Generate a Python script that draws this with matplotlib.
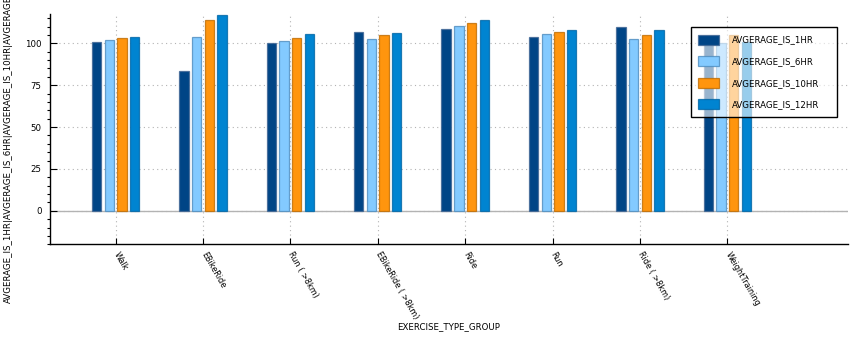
import matplotlib.pyplot as plt
from matplotlib.ticker import MultipleLocator
import numpy as np

groups = ["Walk", "EBikeRide", "Run ( >8km)", "EBikeRide ( >8km)",
          "Ride", "Run", "Ride ( >8km)", "WeightTraining"]
avg_1hr = [100.8, 83.3, 100.2, 106.9, 108.3, 104.0, 109.7, 101.0]
avg_6hr = [101.8, 103.7, 101.6, 102.4, 110.1, 105.5, 102.7, 100.0]
avg_10hr = [103.0, 113.7, 103.4, 104.8, 112.3, 106.5, 105.1, 105.0]
avg_12hr = [103.6, 116.6, 105.7, 106.0, 114.0, 107.7, 107.7, 101.0]
series_names = ["AVGERAGE_IS_1HR", "AVGERAGE_IS_6HR",
                "AVGERAGE_IS_10HR", "AVGERAGE_IS_12HR"]


def main():
    """
    Grouped bar chart of the averages per exercise type.
    """
    plt.rcParams['font.family'] = ['DejaVu Sans']
    fig = plt.figure(figsize=(8.62, 3.41), dpi=100)
    ax = fig.add_axes([0.058, 0.2836, 0.9258, 0.6744])

    series = [avg_1hr, avg_6hr, avg_10hr, avg_12hr]
    fills = ["#004586", "#83caff", "#ff950e", "#0084d1"]
    edges = [(0.25, 0.40, 0.58, 0.8), (0.30, 0.55, 0.75, 0.8),
             (0.75, 0.42, 0.0, 0.8), (0.0, 0.40, 0.65, 0.8)]
    x = np.arange(len(groups))
    step = 0.145
    width = 0.107
    for i, values in enumerate(series):
        ax.bar(x + (i - 1.5) * step, values, width, color=fills[i],
               edgecolor=edges[i], linewidth=0.9, label=series_names[i],
               zorder=3)

    ax.set_xlim(-0.75, 8.38)
    ax.set_ylim(-20, 117.3)
    ax.yaxis.set_major_locator(MultipleLocator(25))
    ax.yaxis.set_minor_locator(MultipleLocator(5))
    ax.set_yticks([0, 25, 50, 75, 100])
    ax.set_xticks(x)
    ax.set_xticklabels(groups, rotation=-60, ha='left', va='center',
                       rotation_mode='anchor')

    ax.tick_params(axis='both', direction='in', labelsize=6.2, width=0.8)
    ax.tick_params(axis='y', which='major', length=5, pad=6)
    ax.tick_params(axis='y', which='minor', length=2.5, width=0.8)
    ax.tick_params(axis='x', length=4, pad=6, labelsize=5.9)

    for s in ["top", "right"]:
        ax.spines[s].set_visible(False)
    for s in ["left", "bottom"]:
        ax.spines[s].set_linewidth(1.0)

    ax.grid(axis='y', which='major', color="#b3b3b3", linestyle=(0, (1, 3)),
            linewidth=0.8, zorder=0)
    ax.grid(axis='x', color="#b3b3b3", linestyle=(0, (1, 3)),
            linewidth=0.8, zorder=0)
    ax.axhline(0, color="#b3b3b3", linewidth=1.0, zorder=1)

    ax.set_xlabel("EXERCISE_TYPE_GROUP", fontsize=6.2)
    ax.xaxis.set_label_coords(0.5, -0.338)
    ax.set_ylabel("|".join(series_names), fontsize=6.2)
    ax.yaxis.set_label_coords(-0.046, 0.5)

    leg = ax.legend(loc='upper left', bbox_to_anchor=(0.803, 0.943, 0.183, 0),
                    mode='expand', borderaxespad=0, fontsize=6.2,
                    fancybox=False, handlelength=2.4, handleheight=1.4,
                    labelspacing=1.35, borderpad=0.85, handletextpad=1.5)
    frame = leg.get_frame()
    frame.set_alpha(None)
    frame.set_facecolor((1, 1, 1, 0.6))
    frame.set_edgecolor("black")
    frame.set_linewidth(1.0)

    fig.savefig("out.png", dpi=100)


if __name__ == "__main__":
    main()
